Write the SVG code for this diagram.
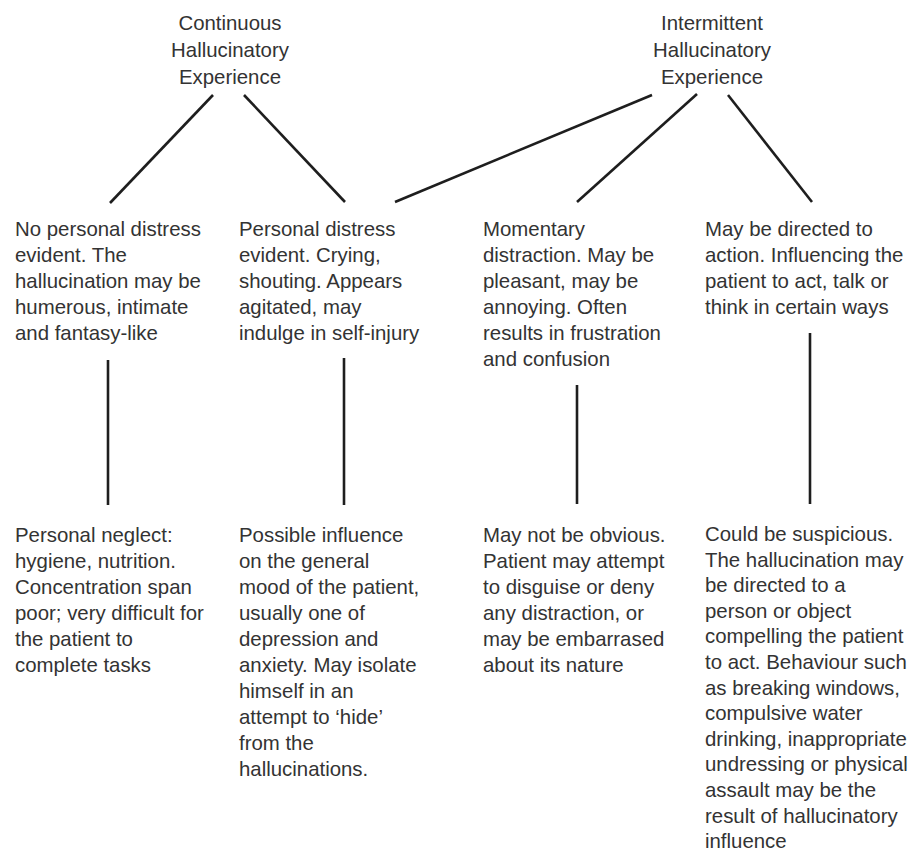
<svg xmlns="http://www.w3.org/2000/svg" width="915" height="856" viewBox="0 0 915 856">
  <style>
    text { font-family: "Liberation Sans", Arial, Helvetica, sans-serif; font-size: 20.4px; fill: #333333; }
    .head { text-anchor: middle; }
    .link { stroke: #1e1e1e; stroke-width: 2.6; stroke-linecap: butt; fill: none; }
  </style>
  <rect width="915" height="856" fill="#ffffff"/>

  <!-- connectors -->
  <g id="connectors">
    <line class="link" x1="213" y1="95" x2="110" y2="203"/>
    <line class="link" x1="244" y1="95" x2="345" y2="202"/>
    <line class="link" x1="652" y1="95" x2="395" y2="202"/>
    <line class="link" x1="697" y1="94" x2="577" y2="202"/>
    <line class="link" x1="728" y1="95" x2="812" y2="202"/>
    <line class="link" x1="108" y1="360" x2="108" y2="505"/>
    <line class="link" x1="344" y1="358" x2="344" y2="505"/>
    <line class="link" x1="577" y1="385" x2="577" y2="504"/>
    <line class="link" x1="810" y1="333" x2="810" y2="504"/>
  </g>

  <!-- top-level categories -->
  <g id="continuous">
    <text class="head" x="230" y="30">Continuous</text>
    <text class="head" x="230" y="57">Hallucinatory</text>
    <text class="head" x="230" y="84">Experience</text>
  </g>
  <g id="intermittent">
    <text class="head" x="712" y="30">Intermittent</text>
    <text class="head" x="712" y="57">Hallucinatory</text>
    <text class="head" x="712" y="84">Experience</text>
  </g>

  <!-- first-level outcomes -->
  <g id="no-distress">
    <text x="15" y="236">No personal distress</text>
    <text x="15" y="262">evident. The</text>
    <text x="15" y="288">hallucination may be</text>
    <text x="15" y="314">humerous, intimate</text>
    <text x="15" y="340">and fantasy-like</text>
  </g>
  <g id="distress">
    <text x="239" y="236">Personal distress</text>
    <text x="239" y="262">evident. Crying,</text>
    <text x="239" y="288">shouting. Appears</text>
    <text x="239" y="314">agitated, may</text>
    <text x="239" y="340">indulge in self-injury</text>
  </g>
  <g id="momentary">
    <text x="483" y="236">Momentary</text>
    <text x="483" y="262">distraction. May be</text>
    <text x="483" y="288">pleasant, may be</text>
    <text x="483" y="314">annoying. Often</text>
    <text x="483" y="340">results in frustration</text>
    <text x="483" y="366">and confusion</text>
  </g>
  <g id="directed">
    <text x="705" y="236">May be directed to</text>
    <text x="705" y="262">action. Influencing the</text>
    <text x="705" y="288">patient to act, talk or</text>
    <text x="705" y="314">think in certain ways</text>
  </g>

  <!-- second-level consequences -->
  <g id="neglect">
    <text x="15" y="542">Personal neglect:</text>
    <text x="15" y="568">hygiene, nutrition.</text>
    <text x="15" y="594">Concentration span</text>
    <text x="15" y="620">poor; very difficult for</text>
    <text x="15" y="646">the patient to</text>
    <text x="15" y="672">complete tasks</text>
  </g>
  <g id="mood">
    <text x="239" y="542">Possible influence</text>
    <text x="239" y="568">on the general</text>
    <text x="239" y="594">mood of the patient,</text>
    <text x="239" y="620">usually one of</text>
    <text x="239" y="646">depression and</text>
    <text x="239" y="672">anxiety. May isolate</text>
    <text x="239" y="698">himself in an</text>
    <text x="239" y="724">attempt to ‘hide’</text>
    <text x="239" y="750">from the</text>
    <text x="239" y="776">hallucinations.</text>
  </g>
  <g id="not-obvious">
    <text x="483" y="542">May not be obvious.</text>
    <text x="483" y="568">Patient may attempt</text>
    <text x="483" y="594">to disguise or deny</text>
    <text x="483" y="620">any distraction, or</text>
    <text x="483" y="646">may be embarrased</text>
    <text x="483" y="672">about its nature</text>
  </g>
  <g id="suspicious">
    <text x="705" y="541">Could be suspicious.</text>
    <text x="705" y="566.6">The hallucination may</text>
    <text x="705" y="592.2">be directed to a</text>
    <text x="705" y="617.8">person or object</text>
    <text x="705" y="643.4">compelling the patient</text>
    <text x="705" y="669">to act. Behaviour such</text>
    <text x="705" y="694.6">as breaking windows,</text>
    <text x="705" y="720.2">compulsive water</text>
    <text x="705" y="745.8">drinking, inappropriate</text>
    <text x="705" y="771.4">undressing or physical</text>
    <text x="705" y="797">assault may be the</text>
    <text x="705" y="822.6">result of hallucinatory</text>
    <text x="705" y="848.2">influence</text>
  </g>
</svg>
